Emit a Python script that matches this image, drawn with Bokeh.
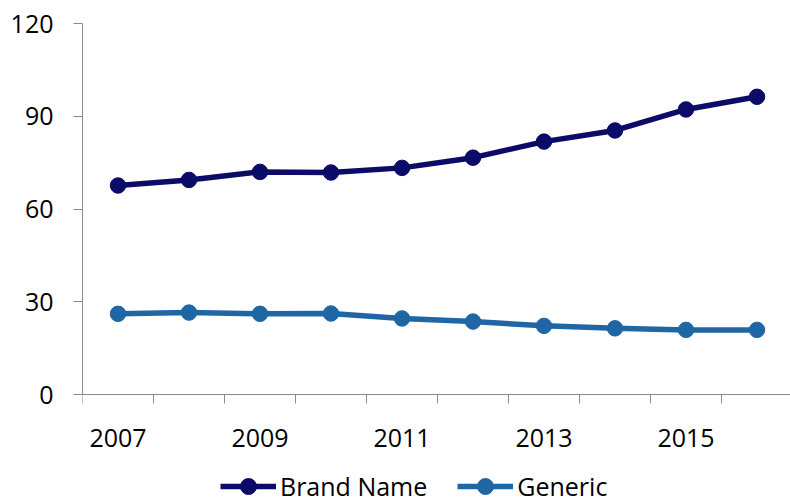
from bokeh.plotting import figure
from bokeh.models import Range1d, FixedTicker, Legend, LegendItem
from bokeh.embed import file_html
from bokeh.resources import INLINE

years = ["2007", "2008", "2009", "2010", "2011", "2012", "2013", "2014", "2015", "2016"]
brand_name = [67.6, 69.4, 72.0, 71.8, 73.3, 76.6, 81.8, 85.4, 92.2, 96.3]
generic = [26.1, 26.5, 26.1, 26.2, 24.6, 23.6, 22.2, 21.4, 20.9, 20.9]
y_ticks = [0, 30, 60, 90, 120]

BRAND_COLOR = "#0B0B68"
GENERIC_COLOR = "#1F66A5"
AXIS_COLOR = "#8A8A8A"
FONT = "Open Sans"

xs = [i + 0.5 for i in range(len(years))]

# frame spans 23..504 px vertically; value 0 sits at 394 px, 120 at 23 px
y_bottom = -110 * 120 / 371

p = figure(width=790, height=504, output_backend="svg", toolbar_location=None,
           x_range=Range1d(0, 708 / 71), y_range=Range1d(y_bottom, 120),
           min_border_left=82, min_border_right=0, min_border_top=23, min_border_bottom=0)
p.outline_line_color = None
p.xgrid.grid_line_color = None
p.ygrid.grid_line_color = None
p.background_fill_color = "white"
p.border_fill_color = "white"

l1 = p.line(xs, brand_name, line_color=BRAND_COLOR, line_width=5.5)
s1 = p.scatter(xs, brand_name, size=15.5, fill_color=BRAND_COLOR, line_color=BRAND_COLOR)
l2 = p.line(xs, generic, line_color=GENERIC_COLOR, line_width=5.5)
s2 = p.scatter(xs, generic, size=15.5, fill_color=GENERIC_COLOR, line_color=GENERIC_COLOR)

# x axis: labels at every other category centre, tick marks at category boundaries
label_pos = xs[::2]
p.xaxis.fixed_location = 0
p.xaxis.ticker = FixedTicker(ticks=label_pos, minor_ticks=list(range(len(years))))
p.xaxis.major_label_overrides = {x: years[i * 2] for i, x in enumerate(label_pos)}
p.xaxis.major_tick_line_color = None
p.xaxis.major_tick_in = 0
p.xaxis.major_tick_out = 0
p.xaxis.minor_tick_in = 0
p.xaxis.minor_tick_out = 9
p.xaxis.minor_tick_line_color = AXIS_COLOR
p.xaxis.axis_line_color = AXIS_COLOR
p.xaxis.major_label_standoff = 25
p.xaxis.major_label_text_font = FONT
p.xaxis.major_label_text_font_size = "25px"
p.xaxis.major_label_text_color = "black"

p.yaxis.bounds = (0, 120)
p.yaxis.ticker = FixedTicker(ticks=y_ticks)
p.yaxis.minor_tick_line_color = None
p.yaxis.major_tick_in = 0
p.yaxis.major_tick_out = 9
p.yaxis.major_tick_line_color = AXIS_COLOR
p.yaxis.axis_line_color = AXIS_COLOR
p.yaxis.major_label_standoff = 20
p.yaxis.major_label_text_font = FONT
p.yaxis.major_label_text_font_size = "25px"
p.yaxis.major_label_text_color = "black"

legend = Legend(items=[LegendItem(label="Brand Name", renderers=[l1, s1]),
                       LegendItem(label="Generic", renderers=[l2, s2])],
                orientation="horizontal", location=(138, -2),
                label_text_font=FONT, label_text_font_size="25px", label_text_color="black",
                glyph_width=56, glyph_height=40, label_standoff=4, spacing=30,
                padding=0, margin=0, border_line_color=None, background_fill_alpha=0)
p.add_layout(legend, "center")

open("out.html", "w").write(file_html(p, INLINE))
